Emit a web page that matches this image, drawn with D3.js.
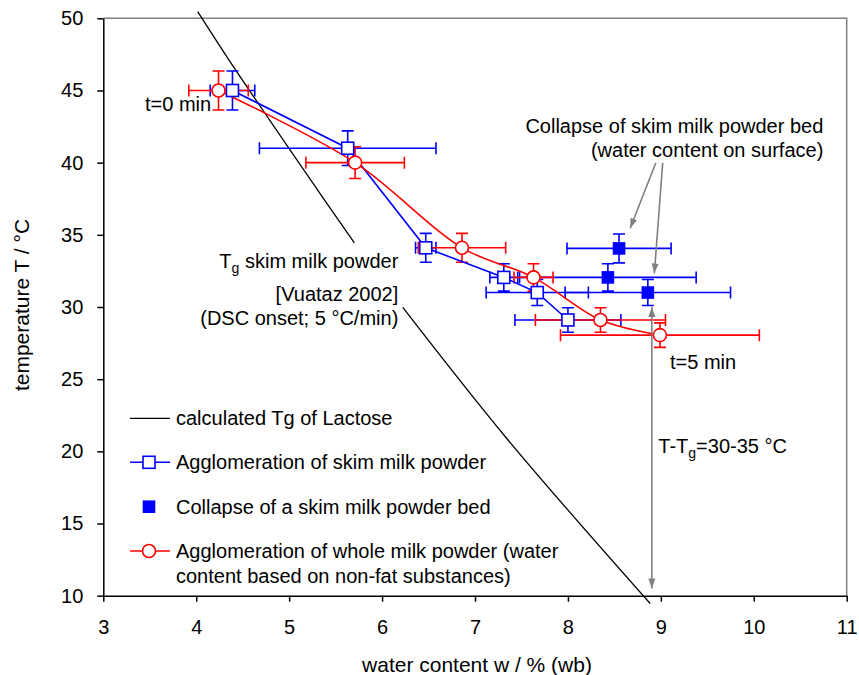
<!DOCTYPE html>
<html>
<head>
<meta charset="utf-8">
<script src="https://cdn.jsdelivr.net/npm/d3@7"></script>
<style>
  body { margin: 0; background: #fff; }
  svg { font-family: "Liberation Sans", Arial, sans-serif; }
</style>
</head>
<body>
<svg id="chart" width="859" height="675"></svg>
<script>
// agglomeration of skim milk powder (open blue squares)
const skimW = [4.39, 5.63, 6.47, 7.31, 7.67, 8.00];
const skimT = [45.0, 41.0, 34.1, 32.05, 31.0, 29.1];
const skimWErr = [0.24, 0.95, 0.11, 0.15, 0.55, 0.57];
const skimTErr = [1.35, 1.2, 1.0, 0.95, 0.9, 0.85];

// collapse of a skim milk powder bed (filled blue squares)
const collapseW = [8.55, 8.43, 8.86];
const collapseT = [34.06, 32.05, 31.0];
const collapseWErr = [0.56, 0.95, 0.89];
const collapseTErr = [1.0, 0.95, 0.9];

// agglomeration of whole milk powder (open red circles)
const wholeW = [4.24, 5.71, 6.86, 7.63, 8.35, 8.99];
const wholeT = [45.0, 40.0, 34.1, 32.05, 29.1, 28.05];
const wholeWErr = [0.32, 0.53, 0.47, 0.21, 0.7, 1.07];
const wholeTErr = [1.35, 1.1, 1.0, 0.95, 0.85, 0.85];

// calculated Tg line, drawn in two pieces around its label
const tgUpperW = [4.016, 4.353, 5.368, 5.702];
const tgUpperT = [50.46, 47.11, 37.53, 34.45];
const tgLowerW = [6.223, 7.342, 8.885];
const tgLowerT = [29.97, 20.89, 9.46];

const xTicks = [3, 4, 5, 6, 7, 8, 9, 10, 11];
const yTicks = [10, 15, 20, 25, 30, 35, 40, 45, 50];

const legendLabels = [
    ["calculated Tg of Lactose"],
    ["Agglomeration of skim milk powder"],
    ["Collapse of a skim milk powder bed"],
    ["Agglomeration of whole milk powder (water", "content based on non-fat substances)"]
];

const BLUE = "#0000ff", RED = "#ff0000", GRAY = "#808080";
const FONT = 20;

const svg = d3.select("#chart");
const x = d3.scaleLinear().domain([3, 11]).range([103.3, 846.7]);
const y = d3.scaleLinear().domain([10, 50]).range([595.7, 18.3]);

// arrow heads
const defs = svg.append("defs");
defs.append("marker")
    .attr("id", "arrow")
    .attr("viewBox", "0 0 10 10")
    .attr("refX", 10).attr("refY", 5)
    .attr("markerWidth", 10).attr("markerHeight", 10)
    .attr("markerUnits", "userSpaceOnUse")
    .attr("orient", "auto-start-reverse")
    .append("path")
    .attr("d", "M0,1.5 L10,5 L0,8.5 Z")
    .attr("fill", GRAY);

// frame: gray top/right, black axes
svg.append("path")
    .attr("d", `M${x(3)},${y(50)}H${x(11)}V${y(10)}`)
    .attr("fill", "none").attr("stroke", GRAY).attr("stroke-width", 1.5);

const xAxis = svg.append("g")
    .attr("transform", `translate(0,${y(10)})`)
    .call(d3.axisBottom(x).tickValues(xTicks).tickSize(6).tickSizeOuter(0).tickPadding(18));
const yAxis = svg.append("g")
    .attr("transform", `translate(${x(3)},0)`)
    .call(d3.axisLeft(y).tickValues(yTicks).tickSize(6).tickSizeOuter(0).tickPadding(14));
[xAxis, yAxis].forEach(a => {
    a.selectAll("path, line").attr("stroke", "#000").attr("stroke-width", 1.5);
    a.selectAll("text").attr("font-size", FONT).attr("fill", "#000")
        .attr("font-family", "Liberation Sans, Arial, sans-serif");
});

svg.append("text")
    .attr("x", 477).attr("y", 672)
    .attr("text-anchor", "middle").attr("font-size", FONT + 1)
    .text("water content w / % (wb)");
svg.append("text")
    .attr("transform", `translate(29,305) rotate(-90)`)
    .attr("text-anchor", "middle").attr("font-size", FONT + 1)
    .text("temperature T / °C");

// Tg line
const tgLine = d3.line().x(d => x(d[0])).y(d => y(d[1])).curve(d3.curveCatmullRom);
[[tgUpperW, tgUpperT], [tgLowerW, tgLowerT]].forEach(([ws, ts]) => {
    svg.append("path")
        .attr("d", tgLine(ws.map((w, i) => [w, ts[i]])))
        .attr("fill", "none").attr("stroke", "#000").attr("stroke-width", 1.3);
});

// error bars
function errorBars(ws, ts, wErr, tErr, color) {
    const g = svg.append("g").attr("stroke", color).attr("stroke-width", 1.6).attr("fill", "none");
    const cap = 6;
    ws.forEach((w, i) => {
        const cx = x(w), cy = y(ts[i]);
        const x0 = x(w - wErr[i]), x1 = x(w + wErr[i]);
        const y0 = y(ts[i] - tErr[i]), y1 = y(ts[i] + tErr[i]);
        g.append("path").attr("d",
            `M${x0},${cy}H${x1}M${x0},${cy - cap}V${cy + cap}M${x1},${cy - cap}V${cy + cap}` +
            `M${cx},${y0}V${y1}M${cx - cap},${y0}H${cx + cap}M${cx - cap},${y1}H${cx + cap}`);
    });
}
errorBars(skimW, skimT, skimWErr, skimTErr, BLUE);
errorBars(collapseW, collapseT, collapseWErr, collapseTErr, BLUE);
errorBars(wholeW, wholeT, wholeWErr, wholeTErr, RED);

// connecting lines
const straight = d3.line().x(d => x(d[0])).y(d => y(d[1]));
const smooth = d3.line().x(d => x(d[0])).y(d => y(d[1])).curve(d3.curveCatmullRom.alpha(0.5));
svg.append("path")
    .attr("d", straight(skimW.map((w, i) => [w, skimT[i]])))
    .attr("fill", "none").attr("stroke", BLUE).attr("stroke-width", 1.6);
svg.append("path")
    .attr("d", smooth(wholeW.map((w, i) => [w, wholeT[i]])))
    .attr("fill", "none").attr("stroke", RED).attr("stroke-width", 1.6);

// markers
function squareMark(g, cx, cy, s, filled) {
    g.append("rect")
        .attr("x", cx - s / 2).attr("y", cy - s / 2)
        .attr("width", s).attr("height", s)
        .attr("fill", filled ? BLUE : "#fff")
        .attr("stroke", BLUE).attr("stroke-width", 1.6);
}
function circleMark(g, cx, cy, r) {
    g.append("circle")
        .attr("cx", cx).attr("cy", cy).attr("r", r)
        .attr("fill", "#fff").attr("stroke", RED).attr("stroke-width", 1.6);
}
const marks = svg.append("g");
skimW.forEach((w, i) => squareMark(marks, x(w), y(skimT[i]), 12, false));
collapseW.forEach((w, i) => squareMark(marks, x(w), y(collapseT[i]), 11, true));
wholeW.forEach((w, i) => circleMark(marks, x(w), y(wholeT[i]), 6.5));

// annotation arrows
function arrow(w0, t0, w1, t1, both) {
    const p = svg.append("line")
        .attr("x1", x(w0)).attr("y1", y(t0))
        .attr("x2", x(w1)).attr("y2", y(t1))
        .attr("stroke", GRAY).attr("stroke-width", 1.6)
        .attr("marker-end", "url(#arrow)");
    if (both) p.attr("marker-start", "url(#arrow)");
}
arrow(8.946, 39.99, 8.67, 35.45, false);
arrow(9.02, 39.99, 8.93, 32.33, false);
arrow(8.903, 30.0, 8.903, 10.5, true);

// annotation texts
function label(px, py, anchor, parts) {
    const t = svg.append("text")
        .attr("x", px).attr("y", py)
        .attr("text-anchor", anchor).attr("font-size", FONT).attr("fill", "#000");
    parts.forEach(p => {
        const s = t.append("tspan").text(p.text);
        if (p.sub) s.attr("font-size", 14).attr("dy", 5);
        if (p.after) s.attr("dy", -5);
    });
}
label(145, 110.7, "start", [{ text: "t=0 min" }]);
label(670, 369.3, "start", [{ text: "t=5 min" }]);
label(398.3, 268.3, "end", [{ text: "T" }, { text: "g", sub: true }, { text: " skim milk powder", after: true }]);
label(398.3, 301, "end", [{ text: "[Vuataz 2002]" }]);
label(398.3, 325, "end", [{ text: "(DSC onset; 5 °C/min)" }]);
label(823.3, 132.7, "end", [{ text: "Collapse of skim milk powder bed" }]);
label(823.3, 156.7, "end", [{ text: "(water content on surface)" }]);
label(658.3, 453.3, "start", [{ text: "T-T" }, { text: "g", sub: true }, { text: "=30-35 °C", after: true }]);

// legend
const legendY = [418.3, 462.3, 506.7, 551];
const lg = svg.append("g");
legendLabels.forEach((lines, i) => {
    const ly = legendY[i];
    if (i === 0) {
        lg.append("line").attr("x1", 130).attr("x2", 170).attr("y1", ly).attr("y2", ly)
            .attr("stroke", "#000").attr("stroke-width", 1.3);
    } else if (i === 1) {
        lg.append("line").attr("x1", 130).attr("x2", 170).attr("y1", ly).attr("y2", ly)
            .attr("stroke", BLUE).attr("stroke-width", 1.6);
        squareMark(lg, 149, ly, 12, false);
    } else if (i === 2) {
        squareMark(lg, 149, ly, 11, true);
    } else {
        lg.append("line").attr("x1", 130).attr("x2", 170).attr("y1", ly).attr("y2", ly)
            .attr("stroke", RED).attr("stroke-width", 1.6);
        circleMark(lg, 149, ly, 6.5);
    }
    lines.forEach((s, j) => {
        lg.append("text")
            .attr("x", 176).attr("y", ly + 7 + j * 24.6)
            .attr("font-size", FONT).attr("fill", "#000")
            .text(s);
    });
});
</script>
</body>
</html>
